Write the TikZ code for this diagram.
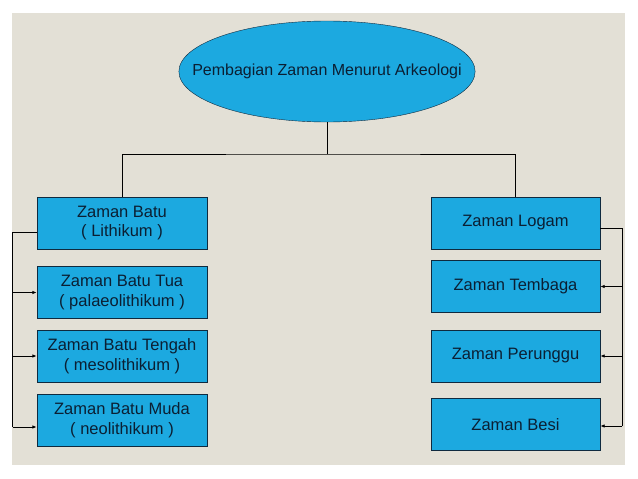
\documentclass[tikz,border=0pt]{standalone}
\usepackage{fontspec}
\setmainfont{Liberation Sans}
\usetikzlibrary{shapes.geometric,arrows.meta}
\definecolor{bgbeige}{HTML}{E3E0D6}
\definecolor{zblue}{HTML}{1CA9E0}
\definecolor{zline}{HTML}{0F2A3F}
\definecolor{ztext}{HTML}{0B1F33}
\newcommand{\zamanFont}{\fontsize{16.5}{19.5}\selectfont}

\begin{document}
\begin{tikzpicture}[x=1pt,y=-1pt]
  \tikzset{zaman/.style={draw=zline,fill=zblue,text=ztext,font=\zamanFont,align=center,minimum width=170pt,minimum height=52pt,inner sep=0pt},
    era/.style={zaman,ellipse,minimum width=292pt,minimum height=101pt,inner xsep=-30pt,font=\fontsize{16}{19}\selectfont},
    link/.style={draw=black,line width=0.9pt},
    arr/.style={link,-{Latex[length=4.5pt,width=3.5pt]}}}
  \useasboundingbox (0,0) rectangle (638,479);
  \fill[bgbeige] (12,13) rectangle (625,465);
  \node[era] (arkeo) at (327,71.5) {Pembagian Zaman Menurut Arkeologi};
  \node[zaman] (batu) at (122,223) {Zaman Batu\\( Lithikum )};
  \node[zaman] (tua) at (122,292.5) {Zaman Batu Tua\\( palaeolithikum )};
  \node[zaman] (tengah) at (122,356) {Zaman Batu Tengah\\( mesolithikum )};
  \node[zaman] (muda) at (122,420) {Zaman Batu Muda\\( neolithikum )};
  \node[zaman,minimum width=169pt] (logam) at (515.5,223) {Zaman Logam};
  \node[zaman,minimum width=169pt] (tembaga) at (515.5,286.5) {Zaman Tembaga};
  \node[zaman,minimum width=169pt] (perunggu) at (515.5,356) {Zaman Perunggu};
  \node[zaman,minimum width=169pt] (besi) at (515.5,424.5) {Zaman Besi};
  \coordinate (split) at (327,154);
  \draw[link] (arkeo.south) -- (split);
  \draw[link] (batu.north) |- (split) -| (logam.north);
  \coordinate (lbus) at (12.5,232);
  \draw[link] ([yshift=-9pt]batu.west) -- (lbus) -- ([yshift=-7pt]lbus |- muda.west);
  \foreach \n/\d in {tua/0,tengah/0,muda/-7}
    \draw[arr] ([yshift=\d pt]lbus |- \n.west) -- ([yshift=\d pt]\n.west);
  \coordinate (rbus) at (622,228);
  \draw[link] ([yshift=-5pt]logam.east) -- (rbus) -- ([yshift=-1.5pt]rbus |- besi.east);
  \foreach \n/\d in {tembaga/0,perunggu/0,besi/-1.5}
    \draw[arr] ([yshift=\d pt]rbus |- \n.east) -- ([yshift=\d pt]\n.east);
\end{tikzpicture}
\end{document}
